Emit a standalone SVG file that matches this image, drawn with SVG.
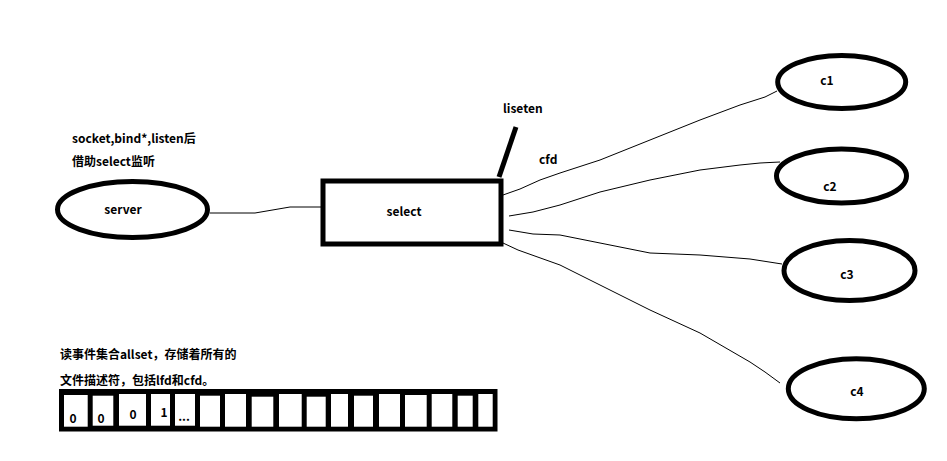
<svg xmlns="http://www.w3.org/2000/svg" width="947" height="461" viewBox="0 0 947 461">
<style>
text{font-family:"Noto Sans CJK SC","Liberation Sans",sans-serif;font-weight:bold;font-size:12px;fill:#000}
.n{fill:#fff;stroke:#000;stroke-width:5}
.c{fill:none;stroke:#000;stroke-width:1}
.m{text-anchor:middle}
.cell{fill:#fff}
</style>
<rect width="947" height="461" fill="#fff"/>
<g id="connectors">
<path class="c" d="M210,213 L255,213 L290,207 L321,207"/>
<path class="c" d="M503,195 L520,189 L540,180 L560,173 L600,160 L650,140 L700,120 L740,105 L765,97 L777,91"/>
<path class="c" d="M509,216 L533,212 L560,205 L600,192 L650,180 L700,170 L740,165 L760,163 L780,162"/>
<path class="c" d="M509,230 L533,234 L560,235 L600,243 L650,253 L700,255 L750,259 L782,264"/>
<path class="c" d="M503,243 L518,250 L560,265 L600,285 L650,310 L700,333 L750,362 L765,372 L780,383"/>
<path d="M499,177 L516,127" fill="none" stroke="#000" stroke-width="5"/>
</g>
<g id="server">
<ellipse class="n" cx="132.5" cy="209.5" rx="75" ry="28"/>
<text class="m" x="123" y="214">server</text>
</g>
<g id="select">
<rect class="n" x="323" y="181" width="178" height="63"/>
<text class="m" x="404" y="216">select</text>
</g>
<g id="c1">
<ellipse class="n" cx="841.7" cy="82" rx="64" ry="26.5"/>
<text class="m" x="827" y="85">c1</text>
</g>
<g id="c2">
<ellipse class="n" cx="841.5" cy="176" rx="65" ry="27"/>
<text class="m" x="830" y="191">c2</text>
</g>
<g id="c3">
<ellipse class="n" cx="849.5" cy="270.5" rx="65.5" ry="30"/>
<text class="m" x="847" y="279">c3</text>
</g>
<g id="c4">
<ellipse class="n" cx="856.3" cy="388.7" rx="68" ry="30"/>
<text class="m" x="857" y="396">c4</text>
</g>
<g id="labels">
<text x="503" y="113">liseten</text>
<text x="539" y="164">cfd</text>
<text x="72" y="143">socket,bind*,listen后</text>
<text x="72" y="166">借助select监听</text>
<text x="60" y="359">读事件集合allset，存储着所有的</text>
<text x="60" y="385">文件描述符，包括lfd和cfd。</text>
</g>
<g id="allset">
<rect x="59" y="389" width="438.5" height="42.5" fill="#000"/>
<rect class="cell" x="64" y="395" width="23.7" height="31.7"/>
<rect class="cell" x="92.7" y="395.7" width="20.6" height="30"/>
<rect class="cell" x="119" y="394" width="27" height="31.7"/>
<rect class="cell" x="151" y="394" width="19" height="31.7"/>
<rect class="cell" x="175" y="394" width="20" height="31.7"/>
<rect class="cell" x="200" y="395.7" width="20" height="31"/>
<rect class="cell" x="225" y="394" width="21" height="32.7"/>
<rect class="cell" x="251.7" y="396.7" width="21.6" height="30"/>
<rect class="cell" x="279" y="394" width="22.7" height="32.7"/>
<rect class="cell" x="306.7" y="396.7" width="19" height="30"/>
<rect class="cell" x="331" y="394" width="17" height="32.7"/>
<rect class="cell" x="354" y="395.7" width="19" height="31"/>
<rect class="cell" x="379" y="394" width="21" height="32.7"/>
<rect class="cell" x="405" y="395" width="21.7" height="31.7"/>
<rect class="cell" x="431.7" y="394" width="20.6" height="32.7"/>
<rect class="cell" x="457.7" y="395.7" width="15" height="31"/>
<rect class="cell" x="478.3" y="394" width="14.4" height="32.7"/>
<text class="m" x="73" y="423">0</text>
<text class="m" x="101" y="423">0</text>
<text class="m" x="133" y="419">0</text>
<text class="m" x="164" y="417">1</text>
<text class="m" x="184" y="421">...</text>
</g>
</svg>
